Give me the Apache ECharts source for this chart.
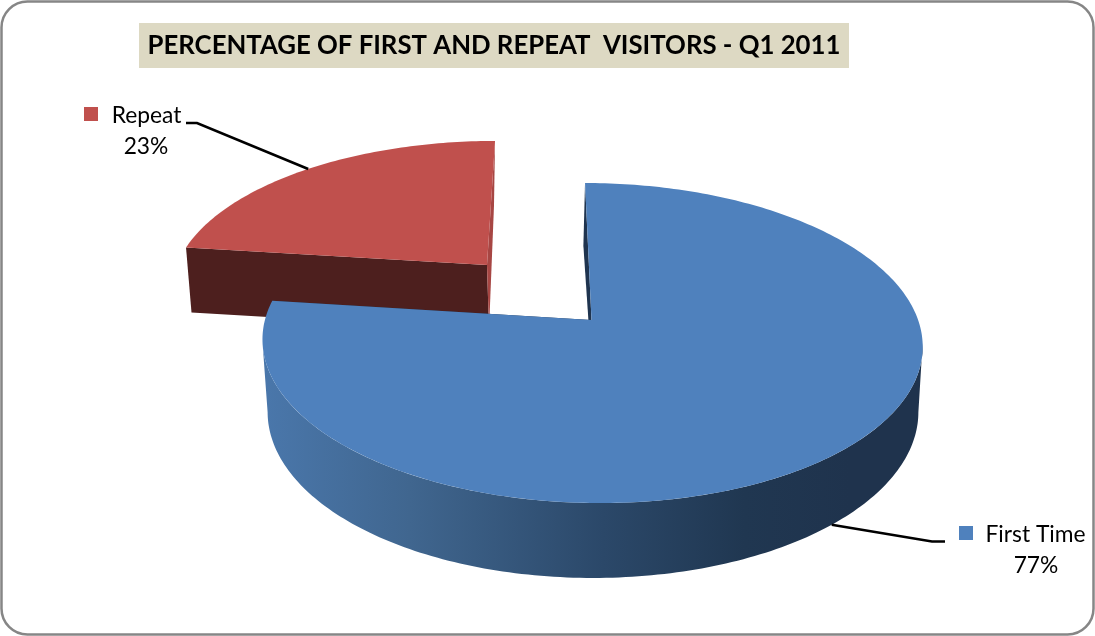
<!DOCTYPE html>
<html>
<head>
<meta charset="utf-8">
<style>html,body{margin:0;padding:0;background:#fff}#chart{width:1095px;height:636px}</style>
<script src="https://cdn.jsdelivr.net/npm/echarts@6/dist/echarts.min.js"></script>
</head>
<body>
<div id="chart"></div>
<script>
// Visitor shares for the quarter
const categories = ['First Time', 'Repeat'];
const shares = [77, 23];
const titleText = 'PERCENTAGE OF FIRST AND REPEAT  VISITORS - Q1 2011';

// Perspective planes of each slice: top face, bottom face, and the lower edge of the cut walls
const solids = [
  {
    top: { x: 591.5, y: 320, a: 326.6, b: 156.7, w: 0.144, s: -7.4 },
    bottom: { x: 593, y: 388, a: 322, b: 162.6, w: 0.144, s: 0 },
    cut: { x: 593, y: 388, a: 322, b: 162.6, w: 0.144, s: -11 },
    face: '#4f81bd', startWall: '#1f344f', endWall: '#1f344f',
    rim: { type: 'linear', x: 263, y: 0, x2: 850, y2: 0, global: true, colorStops: [
      { offset: 0, color: '#4a77ab' }, { offset: 0.25, color: '#40668f' },
      { offset: 0.58, color: '#2b4869' }, { offset: 0.82, color: '#203751' }, { offset: 1, color: '#1f334d' }
    ] },
    labelAnchorPlane: 'bottom', elbow: [932, 541.5], tail: [945, 541.5],
    swatch: [959, 526], nameAt: [1035.5, 535], valueAt: [1036, 566], z: 3
  },
  {
    top: { x: 487, y: 265, a: 310, b: 141.9, w: 0.144, s: 9.2 },
    bottom: { x: 489, y: 330, a: 306, b: 141.9, w: 0.144, s: 5.7 },
    cut: { x: 489, y: 330, a: 306, b: 141.9, w: 0.144, s: 5.7 },
    face: '#c0504d', startWall: '#4d1f1e', endWall: '#a74643', rim: '#4d1f1e',
    labelAnchorPlane: 'top', elbow: [197, 123], tail: [186, 123],
    swatch: [84, 107], nameAt: [146.5, 116], valueAt: [146, 147], z: 2
  }
];

const total = shares.reduce((sum, v) => sum + v, 0);

// Projects a clockwise angle from twelve o'clock onto a tilted plane
function project(plane, deg) {
  const t = deg * Math.PI / 180;
  const d = 1 + plane.w * Math.cos(t);
  return [
    plane.x + (plane.a * Math.sin(t) + plane.s * Math.cos(t)) / d,
    plane.y - plane.b * Math.cos(t) / d
  ];
}

function arc(plane, from, to) {
  const pts = [];
  const n = Math.max(2, Math.ceil(Math.abs(to - from)));
  for (let i = 0; i <= n; i++) pts.push(project(plane, from + (to - from) * i / n));
  return pts;
}

function polygon(points, fill, z2) {
  return { type: 'polygon', shape: { points }, style: { fill, stroke: null }, z2, silent: true };
}

function renderSlice(params, api) {
  const i = params.dataIndex;
  const g = solids[i];
  const value = api.value(1);
  let before = 0;
  for (let k = 0; k < i; k++) before += shares[k];
  const start = before / total * 360;
  const end = start + value / total * 360;
  const mid = (start + end) / 2;
  const base = g.z * 10;
  const children = [];

  // Radial walls of the cut
  const apexTop = [g.top.x, g.top.y];
  const apexBottom = [g.cut.x, g.cut.y];
  children.push(polygon([apexTop, project(g.top, start), project(g.cut, start), apexBottom], g.startWall, base));
  children.push(polygon([apexTop, project(g.top, end), project(g.cut, end), apexBottom], g.endWall, base + (i === 1 ? 1 : 0)));

  // Outer rim between the silhouette tangents, front half only
  const tangent = Math.acos(-g.top.w) * 180 / Math.PI;
  const rimFrom = Math.max(start, tangent);
  const rimTo = Math.min(end, 360 - tangent);
  if (rimTo > rimFrom) {
    children.push(polygon(arc(g.top, rimFrom, rimTo).concat(arc(g.bottom, rimTo, rimFrom)), g.rim, base + 2));
  }

  // Top face
  children.push(polygon([apexTop].concat(arc(g.top, start, end)), g.face, base + 3));

  // Leader line from the slice to its label
  const anchor = project(g[g.labelAnchorPlane], mid);
  children.push({
    type: 'polyline', silent: true, z2: 60,
    shape: { points: [anchor, g.elbow, g.tail] },
    style: { stroke: '#000', lineWidth: 2.6, fill: null }
  });

  // Label: colour key, name, percentage
  children.push({
    type: 'rect', silent: true, z2: 60,
    shape: { x: g.swatch[0], y: g.swatch[1], width: 14, height: 14 },
    style: { fill: g.face }
  });
  const font = '22.8px Lato, "Open Sans", sans-serif';
  children.push({
    type: 'text', silent: true, z2: 60, x: g.nameAt[0], y: g.nameAt[1],
    style: { text: categories[i], font, fill: '#000', align: 'center', verticalAlign: 'middle' }
  });
  children.push({
    type: 'text', silent: true, z2: 60, x: g.valueAt[0], y: g.valueAt[1],
    style: { text: value + '%', font, fill: '#000', align: 'center', verticalAlign: 'middle' }
  });
  return { type: 'group', children };
}

const chart = echarts.init(document.getElementById('chart'), null, { renderer: 'canvas' });
chart.setOption({
  animation: false,
  backgroundColor: '#fff',
  graphic: [
    {
      type: 'rect', silent: true, z: 0,
      shape: { x: 1.5, y: 1.5, width: 1092, height: 633, r: 26 },
      style: { fill: '#fff', stroke: '#868686', lineWidth: 2.5 }
    },
    {
      type: 'rect', silent: true, z: 1,
      shape: { x: 139, y: 23, width: 710, height: 45 },
      style: { fill: '#ddd9c3' }
    }
  ],
  title: {
    text: titleText,
    left: 494, top: 46, textAlign: 'center', textVerticalAlign: 'middle', padding: 0, z: 5,
    textStyle: { fontFamily: 'Lato, "Open Sans", sans-serif', fontWeight: 'bold', fontSize: 25.75, color: '#000' }
  },
  series: [{
    type: 'custom',
    coordinateSystem: 'none',
    renderItem: renderSlice,
    data: categories.map((name, i) => [name, shares[i]]),
    encode: { itemName: 0, value: 1 },
    z: 3
  }]
});
</script>
</body>
</html>
